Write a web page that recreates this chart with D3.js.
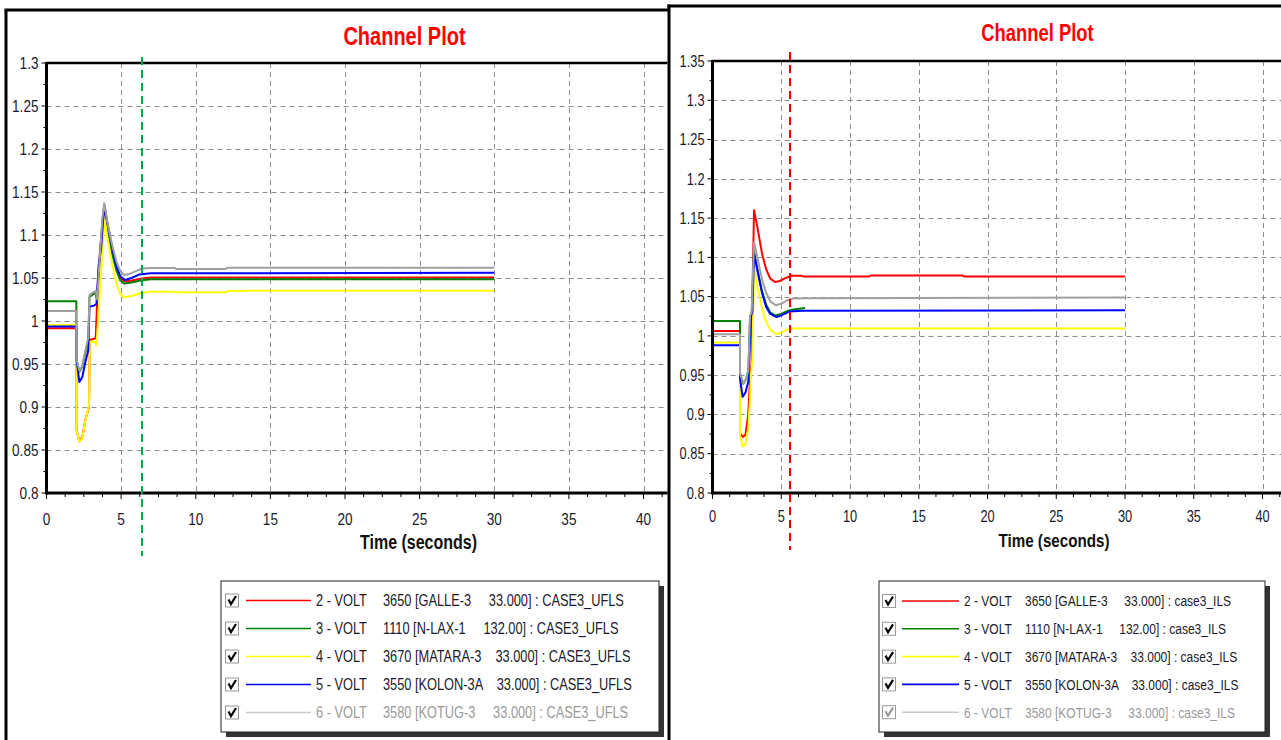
<!DOCTYPE html>
<html>
<head>
<meta charset="utf-8">
<script src="https://cdn.jsdelivr.net/npm/d3@7"></script>
<style>
  html, body { margin: 0; padding: 0; background: #fff; }
  svg { display: block; }
</style>
</head>
<body>
<svg id="chart" width="1281" height="740"></svg>
<script>
// ---------------- DATA ----------------
const timeTicks = [0, 5, 10, 15, 20, 25, 30, 35, 40];
const leftYTicks = [0.8, 0.85, 0.9, 0.95, 1, 1.05, 1.1, 1.15, 1.2, 1.25, 1.3];
const rightYTicks = [0.8, 0.85, 0.9, 0.95, 1, 1.05, 1.1, 1.15, 1.2, 1.25, 1.3, 1.35];

const channelLabels = ["2 - VOLT", "3 - VOLT", "4 - VOLT", "5 - VOLT", "6 - VOLT"];
const busNumbers = ["3650", "1110", "3670", "3550", "3580"];
const busNames = ["GALLE-3", "N-LAX-1", "MATARA-3", "KOLON-3A", "KOTUG-3"];
const baseKV = ["33.000", "132.00", "33.000", "33.000", "33.000"];
const leftCase = "CASE3_UFLS";
const rightCase = "case3_ILS";
const plotTitle = "Channel Plot";
const xAxisTitle = "Time (seconds)";

// marker (cursor) times
const leftMarkerTime = 6.4;
const rightMarkerTime = 5.64;

// Left chart (CASE3_UFLS) series: [time s, voltage pu]
const leftRed = [[0,0.9915],[2.0,0.9915],[2.0,0.874],[2.2,0.860],[2.4,0.865],[2.6,0.885],[2.85,0.900],[2.9,0.978],[3.3,0.98],[3.45,1.05],[3.6,1.085],[3.87,1.133],[4.1,1.109],[4.4,1.082],[4.7,1.06],[4.95,1.05],[5.25,1.046],[5.7,1.047],[6.3,1.049],[7,1.0505],[30,1.0505]];
const leftGreen = [[0,1.023],[2.0,1.023],[2.0,0.955],[2.2,0.941],[2.4,0.947],[2.6,0.963],[2.8,0.978],[2.88,1.028],[3.1,1.031],[3.3,1.033],[3.4,1.022],[3.5,1.053],[3.62,1.085],[3.75,1.118],[3.87,1.134],[4.1,1.108],[4.4,1.078],[4.7,1.058],[4.95,1.047],[5.2,1.0435],[5.6,1.0445],[6.0,1.046],[6.4,1.0475],[7,1.0485],[30,1.0485]];
const leftYellow = [[0,0.9953],[2.0,0.9953],[2.0,0.874],[2.2,0.8595],[2.4,0.864],[2.6,0.884],[2.85,0.902],[2.9,0.976],[3.2,0.976],[3.35,0.972],[3.45,1.0],[3.6,1.04],[3.9,1.1175],[4.1,1.095],[4.4,1.066],[4.7,1.043],[4.95,1.031],[5.2,1.0275],[5.7,1.029],[6.3,1.0325],[7,1.034],[8.6,1.034],[8.7,1.0335],[12,1.0335],[12.1,1.035],[30,1.0353]];
const leftBlue = [[0,0.9935],[2.0,0.9935],[2.0,0.957],[2.2,0.929],[2.4,0.935],[2.6,0.952],[2.8,0.966],[2.88,1.0167],[3.2,1.018],[3.35,1.02],[3.5,1.065],[3.65,1.083],[3.87,1.135],[4.1,1.112],[4.4,1.085],[4.7,1.063],[4.95,1.052],[5.25,1.0477],[5.7,1.05],[6.2,1.054],[7,1.0555],[30,1.056]];
const leftGray = [[0,1.0116],[2.0,1.0116],[2.0,0.957],[2.2,0.942],[2.4,0.948],[2.6,0.965],[2.8,0.981],[2.88,1.03],[3.1,1.033],[3.3,1.035],[3.4,1.025],[3.5,1.055],[3.62,1.087],[3.75,1.12],[3.87,1.137],[4.1,1.113],[4.4,1.088],[4.7,1.068],[4.95,1.058],[5.2,1.0535],[5.6,1.055],[6.0,1.058],[6.4,1.061],[7,1.0615],[8.6,1.0615],[8.7,1.0605],[12,1.0605],[12.1,1.062],[30,1.062]];

// Right chart (case3_ILS) series
const rightRed = [[0,1.0064],[2.0,1.0064],[2.0,0.876],[2.2,0.8715],[2.4,0.874],[2.6,0.90],[2.73,0.944],[2.85,0.967],[2.9,1.05],[3.02,1.160],[3.3,1.135],[3.6,1.105],[3.9,1.085],[4.2,1.073],[4.55,1.0687],[4.9,1.07],[5.3,1.0735],[5.7,1.0765],[6.5,1.0765],[6.6,1.0757],[11.4,1.0757],[11.5,1.077],[18.2,1.077],[18.3,1.0755],[30,1.0755]];
const rightGreen = [[0,1.019],[2.0,1.019],[2.0,0.952],[2.24,0.939],[2.45,0.945],[2.61,0.956],[2.73,1.024],[2.85,1.028],[3.02,1.107],[3.3,1.082],[3.6,1.057],[3.9,1.04],[4.2,1.03],[4.55,1.026],[5.0,1.028],[5.5,1.032],[6.0,1.034],[6.73,1.0356]];
const rightYellow = [[0,0.9915],[2.0,0.9915],[2.0,0.8735],[2.2,0.859],[2.4,0.862],[2.61,0.884],[2.73,0.92],[2.8,0.95],[2.9,0.97],[3.02,1.0857],[3.3,1.06],[3.6,1.035],[3.9,1.018],[4.2,1.008],[4.6,1.002],[5.0,1.004],[5.4,1.008],[5.8,1.0094],[30,1.0094]];
const rightBlue = [[0,0.988],[2.0,0.988],[2.0,0.946],[2.19,0.9224],[2.4,0.928],[2.61,0.942],[2.8,1.026],[2.9,1.03],[3.02,1.1056],[3.3,1.08],[3.6,1.055],[3.9,1.037],[4.2,1.028],[4.67,1.024],[5.1,1.027],[5.6,1.031],[6.5,1.032],[30,1.0327]];
const rightGray = [[0,1.002],[2.0,1.002],[2.0,0.952],[2.24,0.9394],[2.45,0.945],[2.61,0.957],[2.73,1.026],[2.85,1.03],[3.02,1.1196],[3.3,1.097],[3.6,1.072],[3.9,1.055],[4.2,1.044],[4.6,1.039],[5.0,1.041],[5.4,1.045],[5.8,1.0475],[7,1.048],[30,1.0488]];

// ---------------- STYLE ----------------
const seriesColors = ["#ff0000", "#008000", "#ffff00", "#0000ff", "#a0a0a0"];
const FONT = "'Liberation Sans', Arial, sans-serif";
const SX = 0.8; // horizontal condensation to mimic a narrow face

const svg = d3.select("#chart");
svg.append("rect").attr("width", 1281).attr("height", 740).attr("fill", "#fff");

function fmt(v) { return String(+v.toFixed(2)); }

// condensed text helper
function ctext(parent, x, y, str, o) {
  const t = parent.append("text")
    .attr("transform", `translate(${x},${y}) scale(${SX},1)`)
    .attr("font-family", FONT).attr("font-size", o.size)
    .attr("fill", o.fill || "#1a1a2a")
    .attr("text-anchor", o.anchor || "start")
    .text(str);
  if (o.bold) t.attr("font-weight", "bold");
  if (o.dy) t.attr("dy", o.dy);
  if (o.pre) t.style("white-space", "pre");
  return t;
}

function drawPanel(p) {
  const g = svg.append("g");
  const x = d3.scaleLinear().domain([0, 40]).range([p.x0, p.x40]);
  const yMax = p.yTicks[p.yTicks.length - 1];
  const y = d3.scaleLinear().domain([0.8, yMax]).range([p.yBottom, p.yTop]);

  // title
  ctext(g, p.titleX, p.titleY, plotTitle, { size: p.titleSize, bold: true, fill: "#ff0000", anchor: "middle" });

  // grid
  const grid = g.append("g").attr("stroke", "#8c8c8c").attr("stroke-width", 1).attr("stroke-dasharray", "5,4");
  grid.selectAll("line.h").data(p.yTicks.filter(v => v > 0.8 && v < yMax)).enter().append("line")
    .attr("x1", p.x0).attr("x2", p.xEnd).attr("y1", d => Math.round(y(d)) + 0.5).attr("y2", d => Math.round(y(d)) + 0.5);
  grid.selectAll("line.v").data(timeTicks.filter(v => v > 0)).enter().append("line")
    .attr("y1", p.yTop).attr("y2", p.yBottom).attr("x1", d => Math.round(x(d)) + 0.5).attr("x2", d => Math.round(x(d)) + 0.5);

  // clip
  const clipId = "clip" + p.id;
  svg.append("clipPath").attr("id", clipId).append("rect")
    .attr("x", p.x0).attr("y", p.yTop - 5).attr("width", p.xEnd - p.x0).attr("height", p.yBottom - p.yTop + 5);

  const line = d3.line().x(d => x(d[0])).y(d => y(d[1]));
  const lg = g.append("g").attr("clip-path", `url(#${clipId})`);
  p.series.forEach((s, i) => {
    lg.append("path").datum(s).attr("d", line).attr("fill", "none")
      .attr("stroke", seriesColors[i]).attr("stroke-width", 2).attr("stroke-linejoin", "round");
  });

  // axes frame lines
  const ax = g.append("g").attr("stroke", "#000");
  ax.append("line").attr("x1", p.x0).attr("x2", p.xEnd).attr("y1", p.yTop).attr("y2", p.yTop).attr("stroke-width", 2.5);
  ax.append("line").attr("x1", p.x0).attr("x2", p.xEnd).attr("y1", p.yBottom).attr("y2", p.yBottom).attr("stroke-width", 3);
  ax.append("line").attr("x1", p.x0).attr("x2", p.x0).attr("y1", p.yTop - 1).attr("y2", p.yBottom + 1.5).attr("stroke-width", 3);

  // y ticks
  ax.selectAll("line.yt").data(p.yTicks).enter().append("line")
    .attr("x1", p.x0 - 5).attr("x2", p.x0).attr("y1", d => y(d)).attr("y2", d => y(d)).attr("stroke-width", 1);
  const yMinor = d3.range(0, p.yTicks.length - 1).map(i => (p.yTicks[i] + p.yTicks[i + 1]) / 2);
  ax.selectAll("line.ym").data(yMinor).enter().append("line")
    .attr("x1", p.x0 - 3).attr("x2", p.x0).attr("y1", d => y(d)).attr("y2", d => y(d)).attr("stroke-width", 1);
  // x ticks
  ax.selectAll("line.xt").data(timeTicks).enter().append("line")
    .attr("x1", d => x(d)).attr("x2", d => x(d)).attr("y1", p.yBottom).attr("y2", p.yBottom + 6).attr("stroke-width", 1);
  const xMinor = d3.range(0, 42, 1.25).filter(v => v % 5 !== 0 && x(v) < p.xEnd);
  ax.selectAll("line.xm").data(xMinor).enter().append("line")
    .attr("x1", d => x(d)).attr("x2", d => x(d)).attr("y1", p.yBottom).attr("y2", p.yBottom + 4).attr("stroke-width", 1);

  // tick labels
  p.yTicks.forEach(v => ctext(g, p.x0 - 8, y(v), fmt(v), { size: p.tickSize, anchor: "end", dy: "0.36em" }));
  timeTicks.forEach(v => ctext(g, x(v), p.xLabelY, String(v), { size: p.tickSize, anchor: "middle" }));

  ctext(g, p.axisTitleX, p.axisTitleY, xAxisTitle, { size: p.axisTitleSize, bold: true, anchor: "middle", fill: "#111" });

  // marker
  g.append("line").attr("x1", x(p.marker)).attr("x2", x(p.marker))
    .attr("y1", p.markerTop).attr("y2", p.markerBottom)
    .attr("stroke", p.markerColor).attr("stroke-width", 2).attr("stroke-dasharray", "8,5");

  // legend
  const L = p.legend;
  const leg = g.append("g");
  leg.append("rect").attr("x", L.x + 5).attr("y", L.y + 5).attr("width", L.w).attr("height", L.h).attr("fill", "#333");
  leg.append("rect").attr("x", L.x).attr("y", L.y).attr("width", L.w).attr("height", L.h)
    .attr("fill", "#fff").attr("stroke", "#222").attr("stroke-width", 1);
  channelLabels.forEach((c, i) => {
    const cy = L.rowY0 + i * L.rowH;
    const faded = i === 4;
    leg.append("rect").attr("x", L.cbX + 0.5).attr("y", cy - 6.5).attr("width", 13).attr("height", 13)
      .attr("fill", "#fff").attr("stroke", "#999").attr("stroke-width", 1);
    leg.append("path").attr("d", `M${L.cbX + 3.5},${cy - 1} L${L.cbX + 6},${cy + 3.5} L${L.cbX + 11},${cy - 4.5}`)
      .attr("fill", "none").attr("stroke", (faded && p.id === "R") ? "#999" : "#000").attr("stroke-width", 2.2);
    leg.append("line").attr("x1", L.lineX1).attr("x2", L.lineX2).attr("y1", cy).attr("y2", cy)
      .attr("stroke", faded ? "#c8c8c8" : seriesColors[i]).attr("stroke-width", 1.6);
    const col = faded ? "#9a9a9a" : "#1a1a2a";
    ctext(leg, L.textX, cy, c, { size: L.fontSize, fill: col, dy: "0.36em" });
    ctext(leg, L.busX, cy, `${busNumbers[i]} [${busNames[i].padEnd(12, " ")}${baseKV[i]}] : ${p.caseName}`,
      { size: L.fontSize, fill: col, dy: "0.36em", pre: true });
  });
}

// panel frames
svg.append("line").attr("x1", 6).attr("x2", 6).attr("y1", 10).attr("y2", 740).attr("stroke", "#000").attr("stroke-width", 3);
svg.append("line").attr("x1", 4.5).attr("x2", 669).attr("y1", 10).attr("y2", 10).attr("stroke", "#000").attr("stroke-width", 3);

drawPanel({
  id: "L", x0: 46.5, x40: 643.5, xEnd: 667.5, yTop: 63, yBottom: 493,
  yTicks: leftYTicks, series: [leftRed, leftGreen, leftYellow, leftBlue, leftGray],
  titleX: 404.5, titleY: 45, titleSize: 25, tickSize: 17, xLabelY: 525,
  axisTitleX: 418.5, axisTitleY: 549, axisTitleSize: 20,
  marker: leftMarkerTime, markerTop: 57, markerBottom: 556, markerColor: "#00a550",
  caseName: leftCase,
  legend: { x: 221, y: 581, w: 438, h: 151, rowY0: 600.5, rowH: 28, cbX: 225, lineX1: 246, lineX2: 311,
            textX: 316, busX: 383, fontSize: 16 }
});

drawPanel({
  id: "R", x0: 712.5, x40: 1262.5, xEnd: 1281, yTop: 61, yBottom: 493,
  yTicks: rightYTicks, series: [rightRed, rightGreen, rightYellow, rightBlue, rightGray],
  titleX: 1037.5, titleY: 41, titleSize: 23, tickSize: 16, xLabelY: 521.5,
  axisTitleX: 1054, axisTitleY: 547, axisTitleSize: 19,
  marker: rightMarkerTime, markerTop: 52, markerBottom: 550, markerColor: "#e00000",
  caseName: rightCase,
  legend: { x: 879, y: 581, w: 386, h: 151, rowY0: 601, rowH: 27.8, cbX: 882, lineX1: 902, lineX2: 959,
            textX: 964, busX: 1025, fontSize: 15 }
});

// shared border between panels and right panel top
svg.append("line").attr("x1", 669).attr("x2", 669).attr("y1", 4.5).attr("y2", 740).attr("stroke", "#000").attr("stroke-width", 3);
svg.append("line").attr("x1", 667.5).attr("x2", 1281).attr("y1", 6).attr("y2", 6).attr("stroke", "#000").attr("stroke-width", 3);
</script>
</body>
</html>
